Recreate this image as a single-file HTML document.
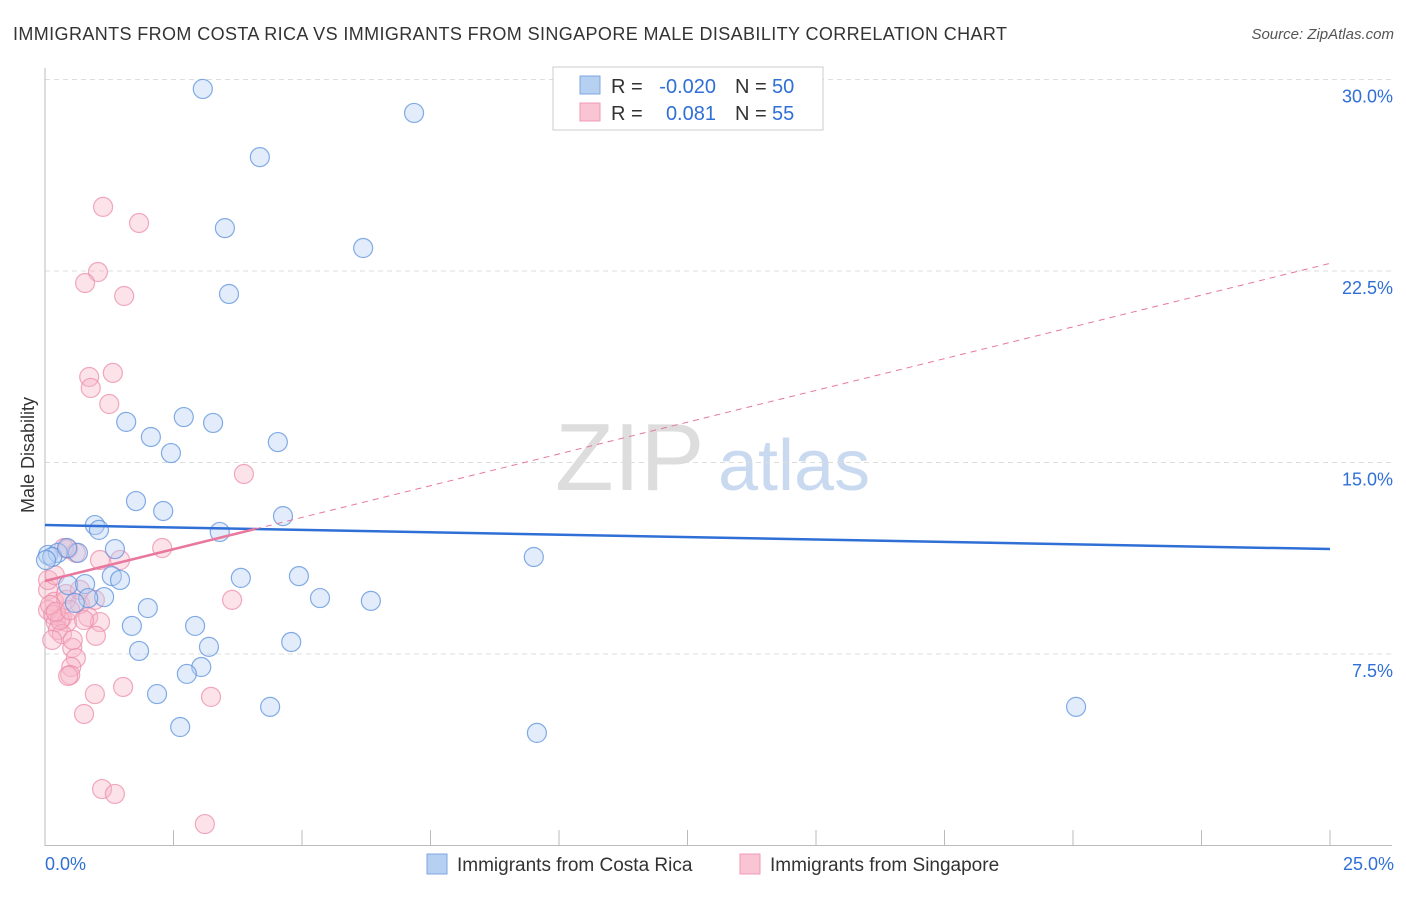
<!DOCTYPE html>
<html><head><meta charset="utf-8"><style>
body{margin:0;background:#fff;font-family:"Liberation Sans",sans-serif}
svg text{font-family:"Liberation Sans",sans-serif}
</style></head><body>
<svg id="c" width="1406" height="892" xmlns="http://www.w3.org/2000/svg">
<text x="13" y="40" font-size="18" fill="#333" textLength="994">IMMIGRANTS FROM COSTA RICA VS IMMIGRANTS FROM SINGAPORE MALE DISABILITY CORRELATION CHART</text>
<text x="1394" y="39" font-size="15" fill="#555" text-anchor="end" font-style="italic">Source: ZipAtlas.com</text>
<text x="555" y="490" font-size="96" fill="#ddd" font-family="Liberation Serif">ZIP</text>
<text x="718" y="490" font-size="72" fill="#c9daf0">atlas</text>
<text transform="translate(34,455) rotate(-90)" font-size="18" fill="#333" text-anchor="middle">Male Disability</text>
<g id="grid"></g><g id="pts"></g><g id="lines"></g>
<g>
<rect x="553" y="67" width="270" height="63" fill="#fff" stroke="#ccc"/>
<rect x="580" y="76" width="20" height="18" fill="#b6d0f2" stroke="#7fa6e0"/>
<rect x="580" y="103" width="20" height="18" fill="#f9c4d4" stroke="#f09ab4"/>
<text x="611" y="93" font-size="20" fill="#333">R =</text>
<text x="716" y="93" font-size="20" fill="#2f6fd6" text-anchor="end">-0.020</text>
<text x="735" y="93" font-size="20" fill="#333">N =</text>
<text x="772" y="93" font-size="20" fill="#2f6fd6">50</text>
<text x="611" y="120" font-size="20" fill="#333">R =</text>
<text x="716" y="120" font-size="20" fill="#2f6fd6" text-anchor="end">0.081</text>
<text x="735" y="120" font-size="20" fill="#333">N =</text>
<text x="772" y="120" font-size="20" fill="#2f6fd6">55</text>
</g>
<g>
<rect x="427" y="854" width="20" height="20" fill="#b6d0f2" stroke="#7fa6e0"/>
<text x="457" y="871" font-size="19" fill="#333">Immigrants from Costa Rica</text>
<rect x="740" y="854" width="20" height="20" fill="#f9c4d4" stroke="#f09ab4"/>
<text x="770" y="871" font-size="19" fill="#333">Immigrants from Singapore</text>
</g>
</svg>
<script>
const yTicks=[7.5,15,22.5,30];
const yTickLabels=["7.5%","15.0%","22.5%","30.0%"];
const xTickLabels=["0.0%","25.0%"];
const blueX=[3.07,7.18,4.18,3.50,6.19,3.58,1.58,2.70,3.27,2.06,2.45,4.53,1.77,2.30,0.97,1.05,3.40,4.63,0.06,0.25,0.64,1.36,9.51,1.30,1.46,3.81,4.94,0.45,0.78,1.15,0.84,5.35,6.34,2.00,1.69,2.92,1.83,3.19,4.79,3.04,2.76,2.18,4.38,2.63,9.57,20.06,0.58,0.14,0.02,0.43];
const blueY=[29.63,28.69,26.96,24.18,23.40,21.60,16.59,16.78,16.55,16.00,15.37,15.80,13.49,13.10,12.55,12.36,12.28,12.90,11.38,11.46,11.46,11.61,11.30,10.55,10.40,10.48,10.55,10.20,10.24,9.73,9.69,9.69,9.58,9.30,8.60,8.60,7.62,7.78,7.97,6.99,6.72,5.93,5.43,4.64,4.41,5.43,9.50,11.30,11.18,11.65];
const pinkX=[1.13,1.83,1.03,0.78,1.54,0.86,1.32,0.89,1.25,3.87,0.45,0.60,0.37,2.28,1.46,0.06,0.18,0.41,0.68,0.06,0.16,0.33,0.21,0.43,0.84,1.07,0.25,0.33,0.99,3.64,0.53,0.60,0.51,0.49,0.45,0.97,1.52,3.23,0.76,1.11,1.36,3.11,0.06,0.19,0.29,0.54,0.41,0.10,0.68,0.97,0.21,0.49,0.76,1.07,0.14];
const pinkY=[25.01,24.38,22.46,22.03,21.52,18.35,18.51,17.92,17.29,14.55,11.61,11.46,11.65,11.65,11.18,10.01,9.54,9.85,9.46,9.22,9.03,8.91,8.75,8.75,8.95,8.75,8.44,8.28,8.21,9.62,7.74,7.34,6.99,6.68,6.64,5.93,6.21,5.82,5.15,2.21,2.02,0.84,10.40,10.59,8.83,8.05,9.62,9.42,10.01,9.62,9.15,9.22,8.83,11.18,8.05];
const blueTrend=[12.55,11.61];
const pinkTrend=[10.36,22.8];
const pinkSolidEnd=4.09;
const NS="http://www.w3.org/2000/svg";
const sx=v=>45+v/25*1285, sy=v=>845.5-v/7.5*191.5;
function mk(t,a,p){const e=document.createElementNS(NS,t);for(const k in a)e.setAttribute(k,a[k]);p.appendChild(e);return e;}
const grid=document.getElementById('grid'),pts=document.getElementById('pts'),lines=document.getElementById('lines');
yTicks.forEach((v,i)=>{
 const l=mk('line',{x1:45,x2:1392,y1:sy(v),y2:sy(v),stroke:'#ddd','stroke-dasharray':'5,4'},grid);
 
 
 const t=mk('text',{x:1393,y:sy(v)+23,'font-size':18,fill:'#2f6fd6','text-anchor':'end'},grid);
 t.textContent=yTickLabels[i];
 
 
});
let ax=mk('line',{x1:45,x2:45,y1:68,y2:846,stroke:'#bbb'},grid);


ax=mk('line',{x1:45,x2:1392,y1:845.5,y2:845.5,stroke:'#bbb'},grid);


for(let i=0;i<=10;i++){const tk=mk('line',{x1:sx(i*2.5),x2:sx(i*2.5),y1:830,y2:846,stroke:'#bbb'},grid);
 
 }
[[0,'start',45],[25,'end',1394]].forEach((d,i)=>{const t=mk('text',{x:d[2],y:870,'font-size':18,fill:'#2f6fd6','text-anchor':d[1]},grid);t.textContent=xTickLabels[i];
 
 });
function dots(X,Y,fill,stroke,name){X.forEach((x,i)=>{const c=mk('circle',{cx:sx(x),cy:sy(Y[i]),r:9.5,fill:fill,'fill-opacity':0.4,stroke:stroke,'stroke-opacity':0.75,'stroke-width':1.2},pts);
 
 });}
dots(pinkX,pinkY,'#f7b6c9','#ec8eab','singapore-point');
dots(blueX,blueY,'#b6d0f2','#5b92dc','costa-rica-point');
let l=mk('line',{x1:sx(0),x2:sx(25),y1:sy(blueTrend[0]),y2:sy(blueTrend[1]),stroke:'#2f6fd6','stroke-width':2.5},lines);


const pk=x=>pinkTrend[0]+(pinkTrend[1]-pinkTrend[0])*x/25;
l=mk('line',{x1:sx(pinkSolidEnd),x2:sx(25),y1:sy(pk(pinkSolidEnd)),y2:sy(pk(25)),stroke:'#e8789d','stroke-width':1,'stroke-dasharray':'6,5'},lines);


l=mk('line',{x1:sx(0),x2:sx(pinkSolidEnd),y1:sy(pk(0)),y2:sy(pk(pinkSolidEnd)),stroke:'#e8789d','stroke-width':2.5},lines);


</script>
</body></html>
